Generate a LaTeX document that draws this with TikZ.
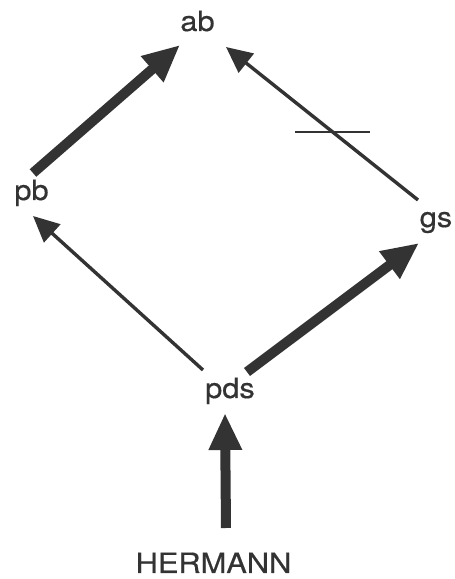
\documentclass[tikz,border=0pt]{standalone}
\usepackage{fontspec}
\setmainfont{TeX Gyre Heros}[FakeStretch=1.1,FakeBold=0.5]
\usetikzlibrary{arrows.meta,calc}
\definecolor{ink}{HTML}{333333}
\begin{document}
\begin{tikzpicture}[x=1pt,y=1pt,
  lbl/.style={anchor=base,inner sep=0pt,text=ink,font=\fontsize{28}{30}\selectfont},
  thickarr/.style={draw=ink,line width=10pt,-{Triangle[length=37pt,width=32pt]}},
  thinarr/.style={draw=ink,line width=3.4pt,-{Triangle[length=26pt,width=24pt]}}]
\useasboundingbox (0,0) rectangle (455,579);
\node[lbl] (ab) at (197.5,548) {ab};
\node[lbl] (pb) at (31.5,379) {pb};
\node[lbl] (gs) at (436,352) {gs};
\node[lbl] (pds) at (230,181) {pds};
\node[lbl] (her) at (213.5,6) {HERMANN};
% connector end points, placed relative to the nodes
\coordinate (pbT) at ($(pb.base)+(1.5,27)$);
\coordinate (abL) at ($(ab.base)+(-17.5,-14)$);
\coordinate (abR) at ($(ab.base)+(28.5,-16)$);
\coordinate (gsT) at ($(gs.base)+(-18,27)$);
\coordinate (pbB) at ($(pb.base)+(1.5,-16)$);
\coordinate (pdsL) at ($(pds.base)+(-27,28)$);
\coordinate (pdsR) at ($(pds.base)+(17,26)$);
\coordinate (gsB) at ($(gs.base)+(-17,-16)$);
\coordinate (pdsB) at ($(pds.base)+(-5,-15)$);
\coordinate (herT) at ($(her.base)+(12.5,45)$);
\draw[thickarr] (pbT) -- (abL);
\draw[thinarr] (gsT) -- coordinate[pos=0.444] (cut) (abR);
\draw[ink,line width=2pt] ($(cut)+(-37.5,0)$) -- ($(cut)+(37.5,0)$);
\draw[thinarr] (pdsL) -- (pbB);
\draw[thickarr] (pdsR) -- (gsB);
\draw[thickarr,-{Triangle[length=37pt,width=31pt]}] (herT) -- (pdsB);
\end{tikzpicture}
\end{document}
